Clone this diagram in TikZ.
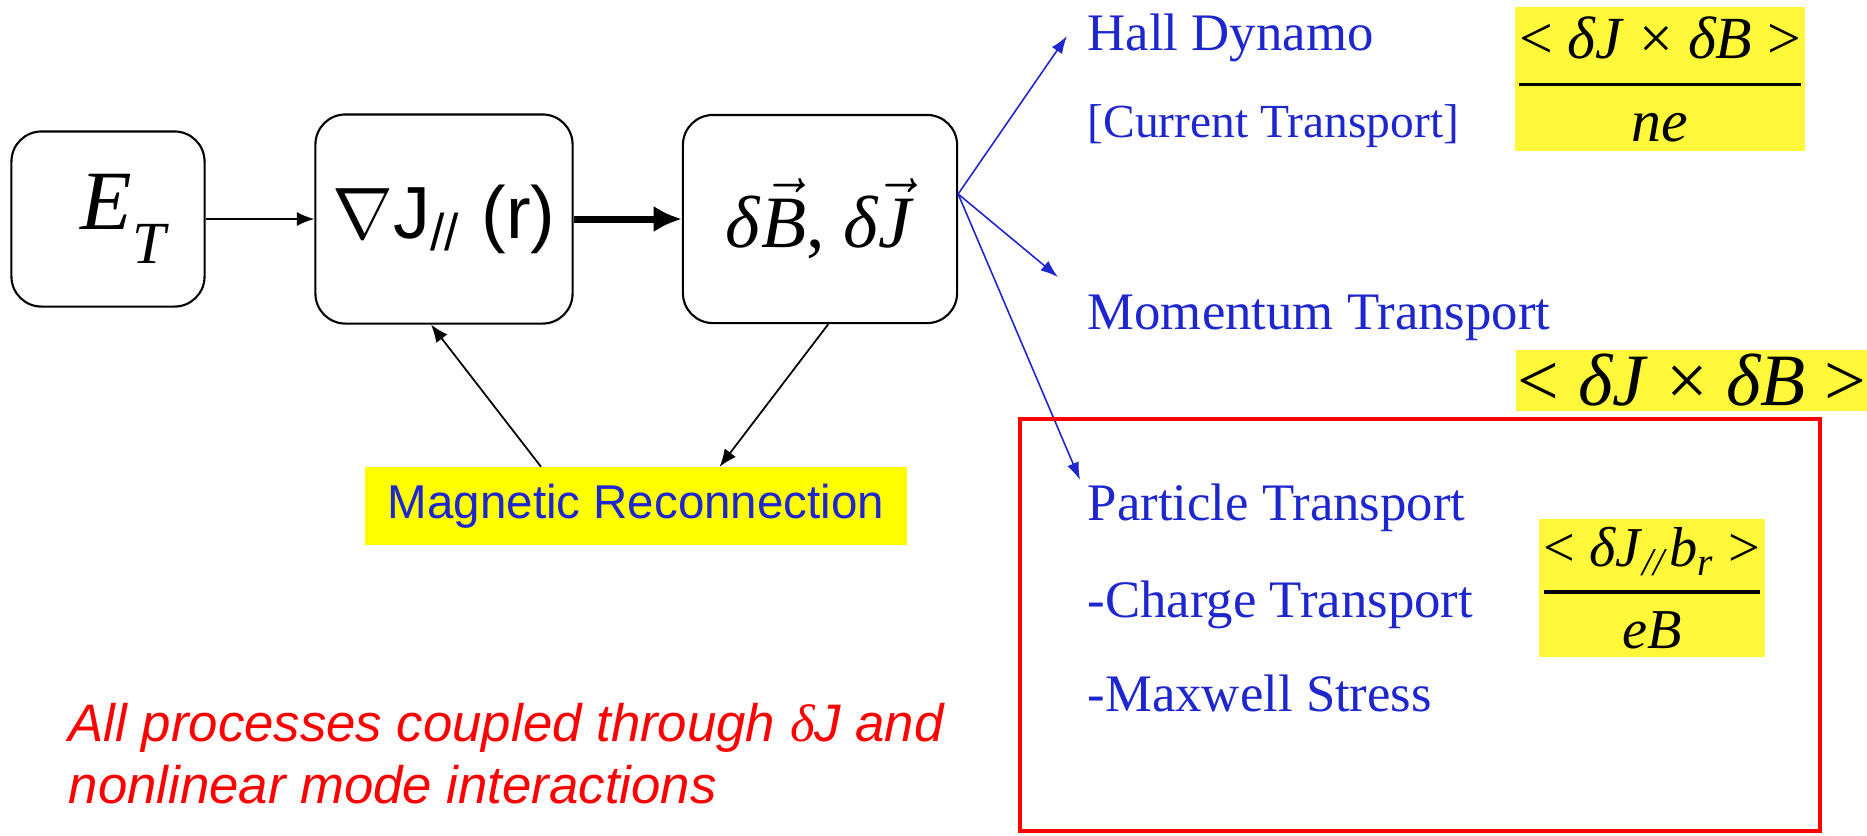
\documentclass[tikz,border=0pt]{standalone}
\usepackage{amsmath}
\usepackage{fontspec}
\setmainfont{Liberation Serif}
\newfontfamily\arialfont{Liberation Sans}
\usetikzlibrary{arrows.meta,calc}

\definecolor{txtblue}{RGB}{30,38,205}
\definecolor{mryellow}{RGB}{255,255,0}
\definecolor{fmyellow}{RGB}{255,247,58}

\tikzset{
  blockbox/.style={draw, line width=0.6pt, rounded corners=0.3cm, inner sep=0pt},
  fmbox/.style={fill=fmyellow, inner sep=0pt},
  bluelabel/.style={text=txtblue, inner sep=0pt, anchor=base west, font=\fontsize{15}{18}\selectfont},
  thinarrow/.style={-{Latex[length=5pt,width=4pt]}, line width=0.5pt},
  bluearrow/.style={-{Latex[length=5pt,width=3.5pt]}, line width=0.45pt, txtblue},
}

\begin{document}
\begin{tikzpicture}[x=0.01cm, y=-0.01cm]
    \useasboundingbox (0,0) rectangle (1867,835);

    % BLOCS PRINCIPALS
    \node[blockbox, minimum width=1.93cm, minimum height=1.75cm, font=\fontsize{24}{28}\selectfont] (et) at (108,219) {\hspace{9.5pt}\textit{E}\raisebox{-0.4em}{\fontsize{17}{20}\selectfont\textit{T}}};
    \node[blockbox, minimum width=2.57cm, minimum height=2.09cm, font=\fontsize{21}{25}\selectfont\arialfont] (gradj) at (444,219) {$\nabla$J$_{\text{\arialfont //}}$ (r)};
    \node[blockbox, minimum width=2.74cm, minimum height=2.08cm, font=\fontsize{21}{25}\selectfont] (dbdj) at (820,219) {\textit{δ}$\vec{\text{\textit{B}}}$, \textit{δ}$\vec{\text{\textit{J}}}$};

    \draw[thinarrow] (et) -- (gradj);
    \draw[-{Latex[length=8pt,width=7.5pt]}, line width=2pt] (gradj) -- (dbdj);

    % RECONNEXIO
    \node[fill=mryellow, minimum width=5.41cm, minimum height=0.77cm, inner sep=0pt, text=txtblue, font=\fontsize{13.5}{16}\selectfont\arialfont] (mr) at (636,506) {Magnetic Reconnection};
    \draw[thinarrow] ($(mr.north west)!0.325!(mr.north east)$) -- ($(gradj.south west)!0.45!(gradj.south east)$);
    \draw[thinarrow] ($(dbdj.south west)!0.53!(dbdj.south east)$) -- ($(mr.north west)!0.654!(mr.north east)$);

    % TRANSPORT
    \node[bluelabel] (hall) at (1087,50) {Hall Dynamo};
    \node[bluelabel, font=\fontsize{13.5}{16}\selectfont] (curr) at (1087,137) {[Current Transport]};
    \node[bluelabel] (mom) at (1087,329) {Momentum Transport};
    \node[bluelabel] (part) at (1087,520) {Particle Transport};
    \node[bluelabel] (charge) at (1087,617) {-Charge Transport};
    \node[bluelabel] (maxw) at (1087,711) {-Maxwell Stress};

    \coordinate (dbout) at ([yshift=0.25cm]dbdj.east);
    \coordinate (halltip) at (1067,36);
    \coordinate (momtip) at (1058,277);
    \coordinate (parttip) at (1080,480);
    \foreach \t in {halltip, momtip, parttip} {
        \draw[bluearrow] (dbout) -- (\t);
    }

    % FORMULES
    \node[fmbox, minimum width=2.88cm, minimum height=1.44cm, font=\fontsize{17}{20}\selectfont] (hallf) at (1660,79) {$\genfrac{}{}{0.9pt}{0}{\text{<~\textit{δJ}~×~\textit{δB}~>}}{\text{\textit{ne}}}$};
    \node[fmbox, minimum width=3.51cm, minimum height=0.61cm, font=\fontsize{21}{25}\selectfont] (momf) at (1692,380) {<~\textit{δJ}~×~\textit{δB}~>};
    \node[fmbox, minimum width=2.25cm, minimum height=1.37cm, font=\fontsize{16}{19}\selectfont] (partf) at (1652,588) {$\genfrac{}{}{0.9pt}{0}{\text{<~\textit{δJ}}_{\text{\textit{//}}}\text{\textit{b}}_{\text{\textit{r}}}\text{~>}}{\text{\textit{eB}}}$};

    % MARC VERMELL
    \draw[red, line width=1.4pt] (1020,419) rectangle (1820,831);

    % NOTA
    \node[anchor=north west, align=left, inner sep=0pt, text=red, font=\fontsize{15}{17.6}\selectfont\arialfont\itshape] (note) at (68,703) {All processes coupled through {\rmfamily\itshape δ}J and\\nonlinear mode interactions};

\end{tikzpicture}
\end{document}
